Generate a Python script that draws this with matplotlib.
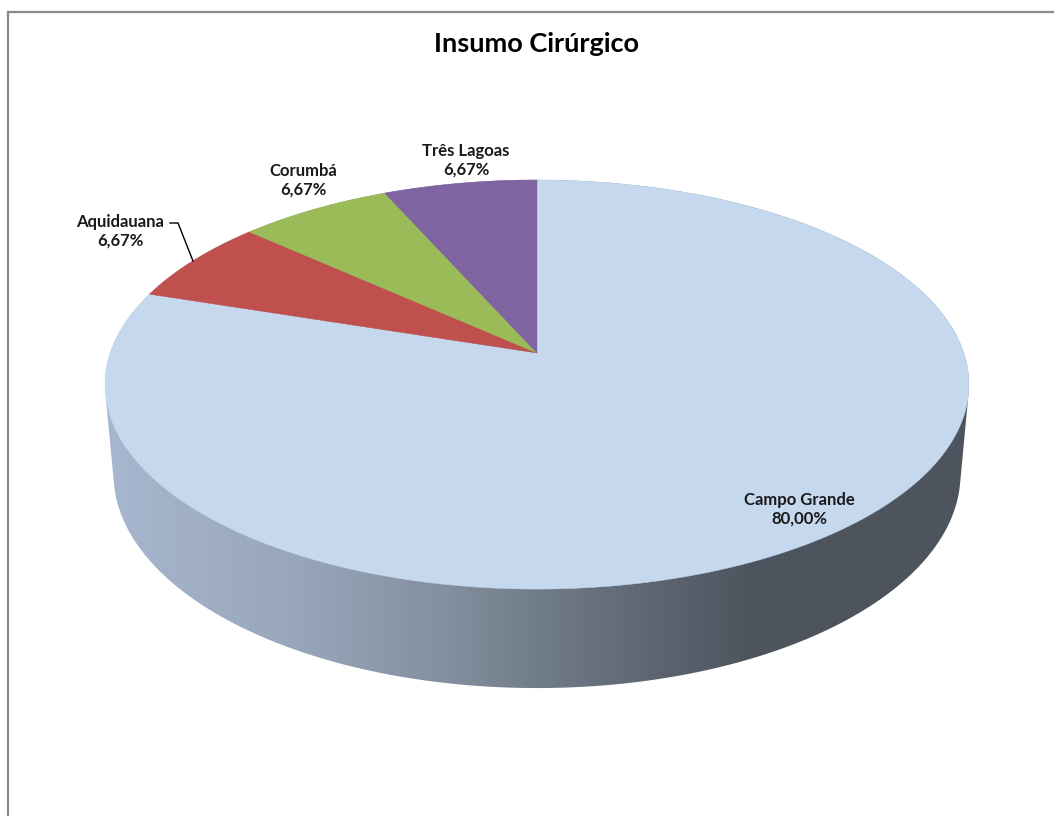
import numpy as np
import matplotlib
matplotlib.use("Agg")
import matplotlib.pyplot as plt
from matplotlib.patches import Polygon

# ---------------- data ----------------
title = "Insumo Cirúrgico"
categories = ["Campo Grande", "Aquidauana", "Corumbá", "Três Lagoas"]
values = [80.00, 6.67, 6.67, 6.67]

# ---------------- style / layout ----------------
top_colors = ["#c5d8ed", "#c0504d", "#9bbb59", "#8064a2"]
label_xy = [(799, 509), (120, 231), (303, 180), (466, 160)]
FONT = ["Lato", "DejaVu Sans"]

W, H = 1054, 816
fig = plt.figure(figsize=(W / 100, H / 100), dpi=100)
ax = fig.add_axes([0, 0, 1, 1])
ax.set_xlim(0, W)
ax.set_ylim(H, 0)
ax.axis("off")

# chart border
ax.plot([8, 8, W + 5], [H + 5, 12, 12], color="#8a8a8a", lw=1.6,
        solid_joinstyle="miter", clip_on=False)

# perspective projection of a disc
alpha = np.radians(27.9)
s_a, c_a = np.sin(alpha), np.cos(alpha)
D, F = 5.737, 2448.6
CX, CY = 537.0, 353.0
THICK = 0.2393


def proj(theta_deg, z):
    t = np.radians(theta_deg)
    X, Y = np.cos(t), np.sin(t)
    u = X
    v = Y * s_a + z * c_a
    w = D + Y * c_a - z * s_a
    return CX + F * u / w, CY - F * v / w


def hull(pts):
    pts = sorted(map(tuple, pts))

    def cross(o, a, b):
        return (a[0] - o[0]) * (b[1] - o[1]) - (a[1] - o[1]) * (b[0] - o[0])
    lower, upper = [], []
    for p in pts:
        while len(lower) >= 2 and cross(lower[-2], lower[-1], p) <= 0:
            lower.pop()
        lower.append(p)
    for p in reversed(pts):
        while len(upper) >= 2 and cross(upper[-2], upper[-1], p) <= 0:
            upper.pop()
        upper.append(p)
    return np.array(lower[:-1] + upper[:-1])


# side of the cylinder (gradient)
th = np.linspace(0, 360, 721)
tx, ty = proj(th, 0.0)
bx, by = proj(th, -THICK)
side_pts = np.column_stack([np.concatenate([tx, bx]), np.concatenate([ty, by])])
side_poly = Polygon(hull(side_pts), closed=True, facecolor="none", edgecolor="none")
ax.add_patch(side_poly)

gx = np.arange(W) + 0.5
stops_x = [105, 300, 450, 540, 650, 750, 1000]
stops_r = [167, 152, 131, 113, 94, 78, 77]
stops_g = [183, 166, 142, 124, 102, 85, 84]
stops_b = [207, 186, 158, 138, 114, 95, 94]
grad = np.stack([np.interp(gx, stops_x, stops_r),
                 np.interp(gx, stops_x, stops_g),
                 np.interp(gx, stops_x, stops_b)], axis=-1) / 255.0
img = ax.imshow(grad[None, :, :], extent=(0, W, H, 0), aspect="auto",
                interpolation="bilinear", zorder=1)
img.set_clip_path(side_poly)

# top face slices (clockwise from 12 o'clock)
total = sum(values)
start = 90.0
for val, col in zip(values, top_colors):
    span = 360.0 * val / total
    end = start - span
    angs = np.linspace(start, end, max(int(span * 2), 4))
    px, py = proj(angs, 0.0)
    pts = np.column_stack([np.concatenate([[CX], px]), np.concatenate([[CY], py])])
    ax.add_patch(Polygon(pts, closed=True, facecolor=col, edgecolor=col,
                         lw=0.3, zorder=2))
    start = end

# data labels
for cat, val, (lx, ly) in zip(categories, values, label_xy):
    txt = f"{cat}\n{val:.2f}%".replace(".", ",")
    ax.text(lx, ly, txt, ha="center", va="center", fontsize=12,
            fontweight="bold", family=FONT, color="#1a1a1a",
            linespacing=1.2, zorder=5)

# leader line for Aquidauana
ax.plot([170, 178, 193], [223, 223, 261], color="black", lw=1.0, zorder=4)

# title
ax.text(537, 44, title, ha="center", va="center", fontsize=19.5,
        fontweight="bold", family=FONT, color="black", zorder=5)

fig.savefig("out.png", dpi=100)
